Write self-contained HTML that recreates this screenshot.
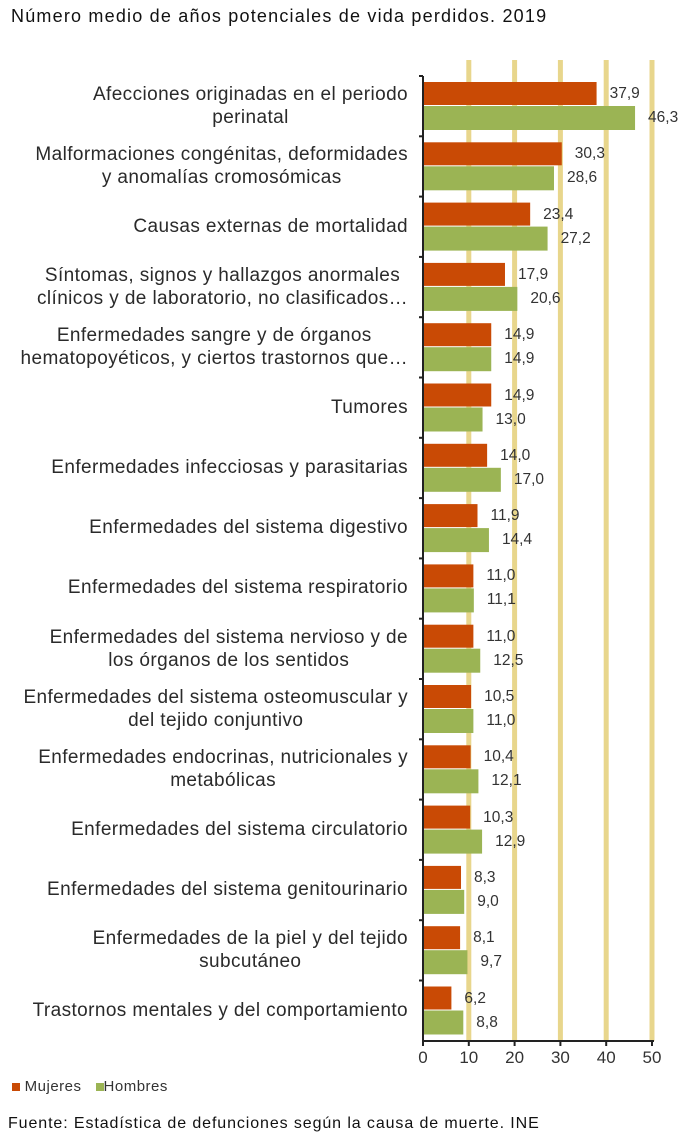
<!DOCTYPE html>
<html><head><meta charset="utf-8"><style>
body{margin:0;background:#fff;width:700px;height:1137px;position:relative;overflow:hidden;font-family:"Liberation Sans",Arial,sans-serif;color:#222}
.t{position:absolute;left:11px;top:6px;font-size:18px;letter-spacing:1.2px;color:#111;white-space:nowrap}
.l{position:absolute;right:292px;text-align:center;white-space:nowrap;font-size:19px;line-height:23px;color:#2a2a2a;letter-spacing:0.4px}
.v{position:absolute;font-size:15.5px;color:#333;white-space:nowrap}
.leg{position:absolute;left:12px;top:1078px;font-size:15px;letter-spacing:0.5px;color:#333}
.src{position:absolute;left:8px;top:1115px;font-size:16px;letter-spacing:0.9px;color:#111;white-space:nowrap}
</style></head><body>
<div class="t">Número medio de años potenciales de vida perdidos. 2019</div>
<svg width="700" height="1137" style="position:absolute;left:0;top:0" id="s"></svg>
<div id="c"></div>
<div class="leg"><span style="display:inline-block;width:8px;height:8px;background:#c94a05"></span> Mujeres &nbsp;&nbsp;<span style="display:inline-block;width:8px;height:8px;background:#9bb454"></span>Hombres</div>
<div class="src">Fuente: Estadística de defunciones según la causa de muerte. INE</div>
<script>
(function(){
var d=[["Afecciones originadas en el periodo<br>perinatal",37.9,46.3],
["Malformaciones congénitas, deformidades<br>y anomalías cromosómicas",30.3,28.6],
["Causas externas de mortalidad",23.4,27.2],
["Síntomas, signos y hallazgos anormales<br>clínicos y de laboratorio, no clasificados…",17.9,20.6],
["Enfermedades sangre y de órganos<br>hematopoyéticos, y ciertos trastornos que…",14.9,14.9],
["Tumores",14.9,13.0],
["Enfermedades infecciosas y parasitarias",14.0,17.0],
["Enfermedades del sistema digestivo",11.9,14.4],
["Enfermedades del sistema respiratorio",11.0,11.1],
["Enfermedades del sistema nervioso y de<br>los órganos de los sentidos",11.0,12.5],
["Enfermedades del sistema osteomuscular y<br>del tejido conjuntivo",10.5,11.0],
["Enfermedades endocrinas, nutricionales y<br>metabólicas",10.4,12.1],
["Enfermedades del sistema circulatorio",10.3,12.9],
["Enfermedades del sistema genitourinario",8.3,9.0],
["Enfermedades de la piel y del tejido<br>subcutáneo",8.1,9.7],
["Trastornos mentales y del comportamiento",6.2,8.8]];
var x0=423,k=4.58,y0=76,gh=60.3,s='',h='';
for(var i=1;i<=5;i++){var x=x0+i*10*k;s+='<rect x="'+(x-2.5)+'" y="60" width="5" height="'+(1041-60)+'" fill="#e8d68c"/>';}
function f(v){return v.toFixed(1).replace(".",",");}
d.forEach(function(r,i){var y=y0+i*gh;
s+='<rect x="'+x0+'" y="'+(y+6)+'" width="'+(r[1]*k)+'" height="23" fill="#c94a05"/>';
s+='<rect x="'+x0+'" y="'+(y+30)+'" width="'+(r[2]*k)+'" height="24" fill="#9bb454"/>';
s+='<line x1="'+(x0-4)+'" x2="'+x0+'" y1="'+y+'" y2="'+y+'" stroke="#222" stroke-width="2"/>';
h+='<div class="v" style="left:'+(x0+r[1]*k+13)+'px;top:'+(y+9)+'px">'+f(r[1])+'</div>';
h+='<div class="v" style="left:'+(x0+r[2]*k+13)+'px;top:'+(y+33)+'px">'+f(r[2])+'</div>';
var two=r[0].indexOf('<br>')>=0;
h+='<div class="l" style="top:'+(y+(two?7:18))+'px">'+r[0]+'</div>';});
s+='<line x1="'+x0+'" x2="'+x0+'" y1="'+y0+'" y2="1042" stroke="#222" stroke-width="2"/>';
s+='<line x1="'+x0+'" x2="'+(x0+50*k+2)+'" y1="1041" y2="1041" stroke="#222" stroke-width="2"/>';
for(var i=0;i<=5;i++){var x=x0+i*10*k;s+='<line x1="'+x+'" x2="'+x+'" y1="1041" y2="1046" stroke="#222" stroke-width="2"/>';
s+='<text x="'+x+'" y="1063" text-anchor="middle" font-size="17" fill="#333" font-family="Liberation Sans,sans-serif">'+(i*10)+'</text>';}
document.getElementById('s').innerHTML=s;document.getElementById('c').innerHTML=h;
})();
</script>
</body></html>
